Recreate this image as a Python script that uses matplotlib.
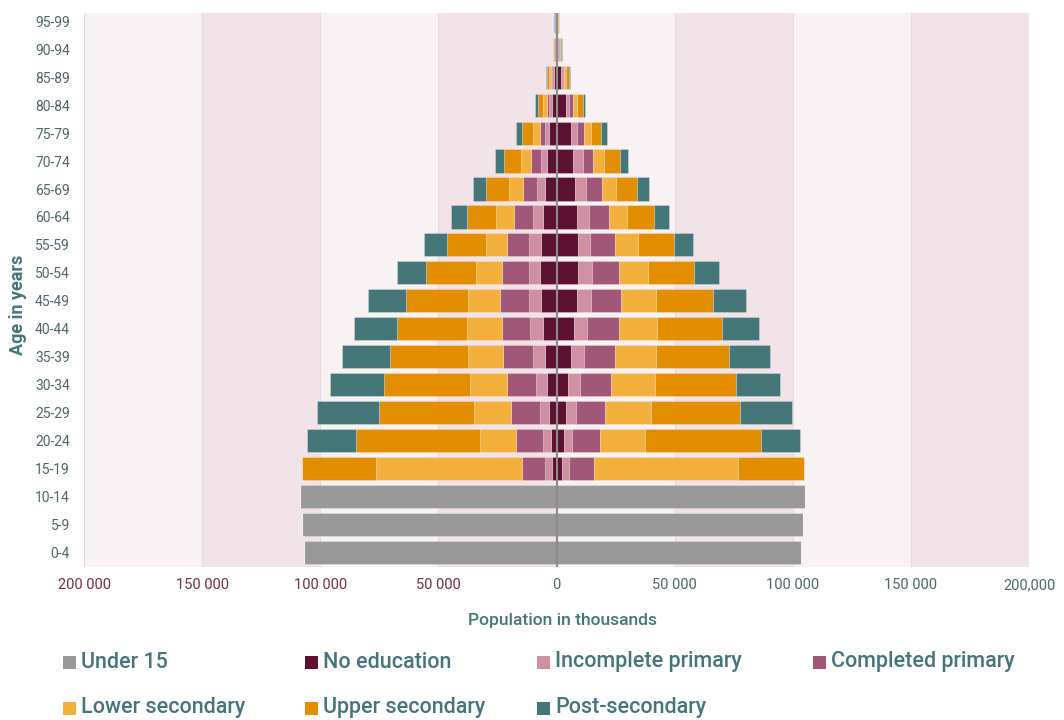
import matplotlib
matplotlib.use("Agg")
import matplotlib.pyplot as plt
from matplotlib.patches import Rectangle
import numpy as np

plt.rcParams["font.family"] = ["Roboto", "DejaVu Sans"]

# Age groups, youngest first (bottom of the pyramid).
ages = ["0-4", "5-9", "10-14", "15-19", "20-24", "25-29", "30-34", "35-39",
        "40-44", "45-49", "50-54", "55-59", "60-64", "65-69", "70-74",
        "75-79", "80-84", "85-89", "90-94", "95-99"]

# Population in thousands, left side of the pyramid.
left_under15 = [106950, 107520, 108370] + [0] * 17
left_no_edu = [0, 0, 0, 1970, 2400, 3240, 4090, 4940, 5790, 6490, 6910,
               6490, 5640, 4870, 4150, 3170, 1900, 1200, 500, 300]
left_incomplete = [0, 0, 0, 2960, 3240, 3670, 4510, 4940, 5220, 5360, 4940,
                   4940, 4230, 3250, 2280, 1690, 1270, 700, 250, 120]
left_completed = [0, 0, 0, 9740, 11430, 12280, 12280, 12560, 12140, 12140,
                  11010, 9450, 8180, 6070, 4370, 2260, 850, 420, 200, 100]
left_lower_sec = [0, 0, 0, 61940, 15380, 15800, 15800, 15100, 14820, 13550,
                  11290, 9030, 7620, 5930, 4230, 2960, 1700, 990, 200, 100]
left_upper_sec = [0, 0, 0, 31320, 52350, 40070, 36270, 32870, 29630, 26240,
                  21020, 16510, 12280, 9600, 7060, 4530, 2100, 700, 250, 150]
left_post_sec = [0, 0, 0, 0, 21020, 26240, 23000, 20180, 18060, 16090,
                 12280, 9590, 6910, 5500, 3940, 2540, 1140, 420, 100, 80]

# Population in thousands, right side of the pyramid.
right_under15 = [103420, 104270, 105120] + [0] * 17
right_no_edu = [0, 0, 0, 2260, 3100, 3950, 4800, 5930, 7200, 8470, 9030,
                9030, 8750, 7970, 7120, 6280, 4020, 2050, 800, 400]
right_incomplete = [0, 0, 0, 2960, 3390, 4230, 5080, 5640, 5500, 5930, 5790,
                    5360, 4800, 4370, 4090, 2260, 1270, 850, 300, 150]
right_completed = [0, 0, 0, 10580, 11850, 12560, 13260, 13260, 13830, 12980,
                   11710, 10440, 8470, 6910, 4370, 3240, 1830, 280, 200, 100]
right_lower_sec = [0, 0, 0, 61230, 19050, 19190, 18490, 17220, 15950, 14680,
                   12140, 9590, 7900, 5930, 4510, 2960, 1550, 990, 350, 100]
right_upper_sec = [0, 0, 0, 27800, 49100, 37680, 34150, 30760, 27520, 24270,
                   19330, 15240, 11430, 8890, 6630, 4090, 2400, 990, 400, 150]
right_post_sec = [0, 0, 0, 0, 16790, 22010, 18910, 17360, 15520, 13970,
                  10580, 8180, 6350, 5080, 3670, 2400, 1130, 420, 250, 100]

categories = ["Under 15", "No education", "Incomplete primary",
              "Completed primary", "Lower secondary", "Upper secondary",
              "Post-secondary"]
colors = ["#999999", "#5c1230", "#cf90a3", "#a15777", "#f4b03c", "#e38d00",
          "#44767a"]

x_ticks = [-200000, -150000, -100000, -50000, 0, 50000, 100000, 150000, 200000]
x_ticklabels = ["200 000", "150 000", "100 000", "50 000", "0", "50 000",
                "100 000", "150 000", "200,000"]

TEAL = "#44757a"
AXIS_TEXT = "#4d666a"
LEFT_TICK = "#7a2a4a"
BAND_LIGHT = "#f9f2f5"
BAND_DARK = "#f2e3e9"

left_series = [left_under15, left_no_edu, left_incomplete, left_completed,
               left_lower_sec, left_upper_sec, left_post_sec]
right_series = [right_under15, right_no_edu, right_incomplete,
                right_completed, right_lower_sec, right_upper_sec,
                right_post_sec]

fig = plt.figure(figsize=(10.64, 7.2), dpi=100, facecolor="white")
ax = fig.add_axes([84 / 1064, 1 - 567 / 720, 945 / 1064, 554 / 720])

# alternating pink bands every 50 000
for i, x0 in enumerate(x_ticks[:-1]):
    ax.axvspan(x0, x0 + 50000, color=BAND_LIGHT if i % 2 == 0 else BAND_DARK,
               lw=0, zorder=0)
    ax.axvline(x0, color="#ecd9e0", lw=0.8, zorder=0.5)

y = np.arange(len(ages))
h = 0.83
for side, series in ((-1, left_series), (1, right_series)):
    base = np.zeros(len(ages))
    for vals, col in zip(series, colors):
        v = np.asarray(vals, dtype=float)
        ax.barh(y, side * v, left=side * base, height=h, color=col,
                edgecolor=(1, 1, 1, 0.35), linewidth=0.5, zorder=2)
        base += v

ax.axvline(0, color="#8c8c8c", lw=1.5, zorder=3)

ax.set_xlim(-200000, 200000)
ax.set_ylim(-0.53, len(ages) - 0.7)
ax.set_yticks(y)
ax.set_yticklabels(ages, fontsize=10, color=AXIS_TEXT)
ax.set_xticks(x_ticks)
ax.set_xticklabels(x_ticklabels, fontsize=10.5)
for lab, xv in zip(ax.get_xticklabels(), x_ticks):
    lab.set_color(LEFT_TICK if xv < 0 else AXIS_TEXT)
ax.tick_params(axis="x", length=0, pad=8)
ax.tick_params(axis="y", length=0, pad=10)
for s in ax.spines.values():
    s.set_visible(False)

ax.set_ylabel("Age in years", fontsize=13, color=TEAL, fontweight="bold")
ax.yaxis.set_label_coords((27 - 84) / 945, (567 - 305) / 554)
fig.text(563 / 1064, 1 - 621 / 720, "Population in thousands", ha="center",
         va="center", fontsize=12.6, color=TEAL, fontweight="medium")

# legend laid out in two rows
legend_pos = [(63, 662), (305, 662), (537, 662), (813, 662),
              (63, 708), (305, 708), (537, 708)]
for (px, py), name, col in zip(legend_pos, categories, colors):
    fig.patches.append(Rectangle((px / 1064, 1 - (py + 7) / 720), 13 / 1064,
                                 13 / 720, transform=fig.transFigure,
                                 facecolor=col, edgecolor="none"))
    fig.text((px + 18) / 1064, 1 - py / 720, name, ha="left", va="center",
             fontsize=15.5, color=TEAL, fontweight="medium")

fig.savefig("out.png", dpi=100, facecolor="white")
